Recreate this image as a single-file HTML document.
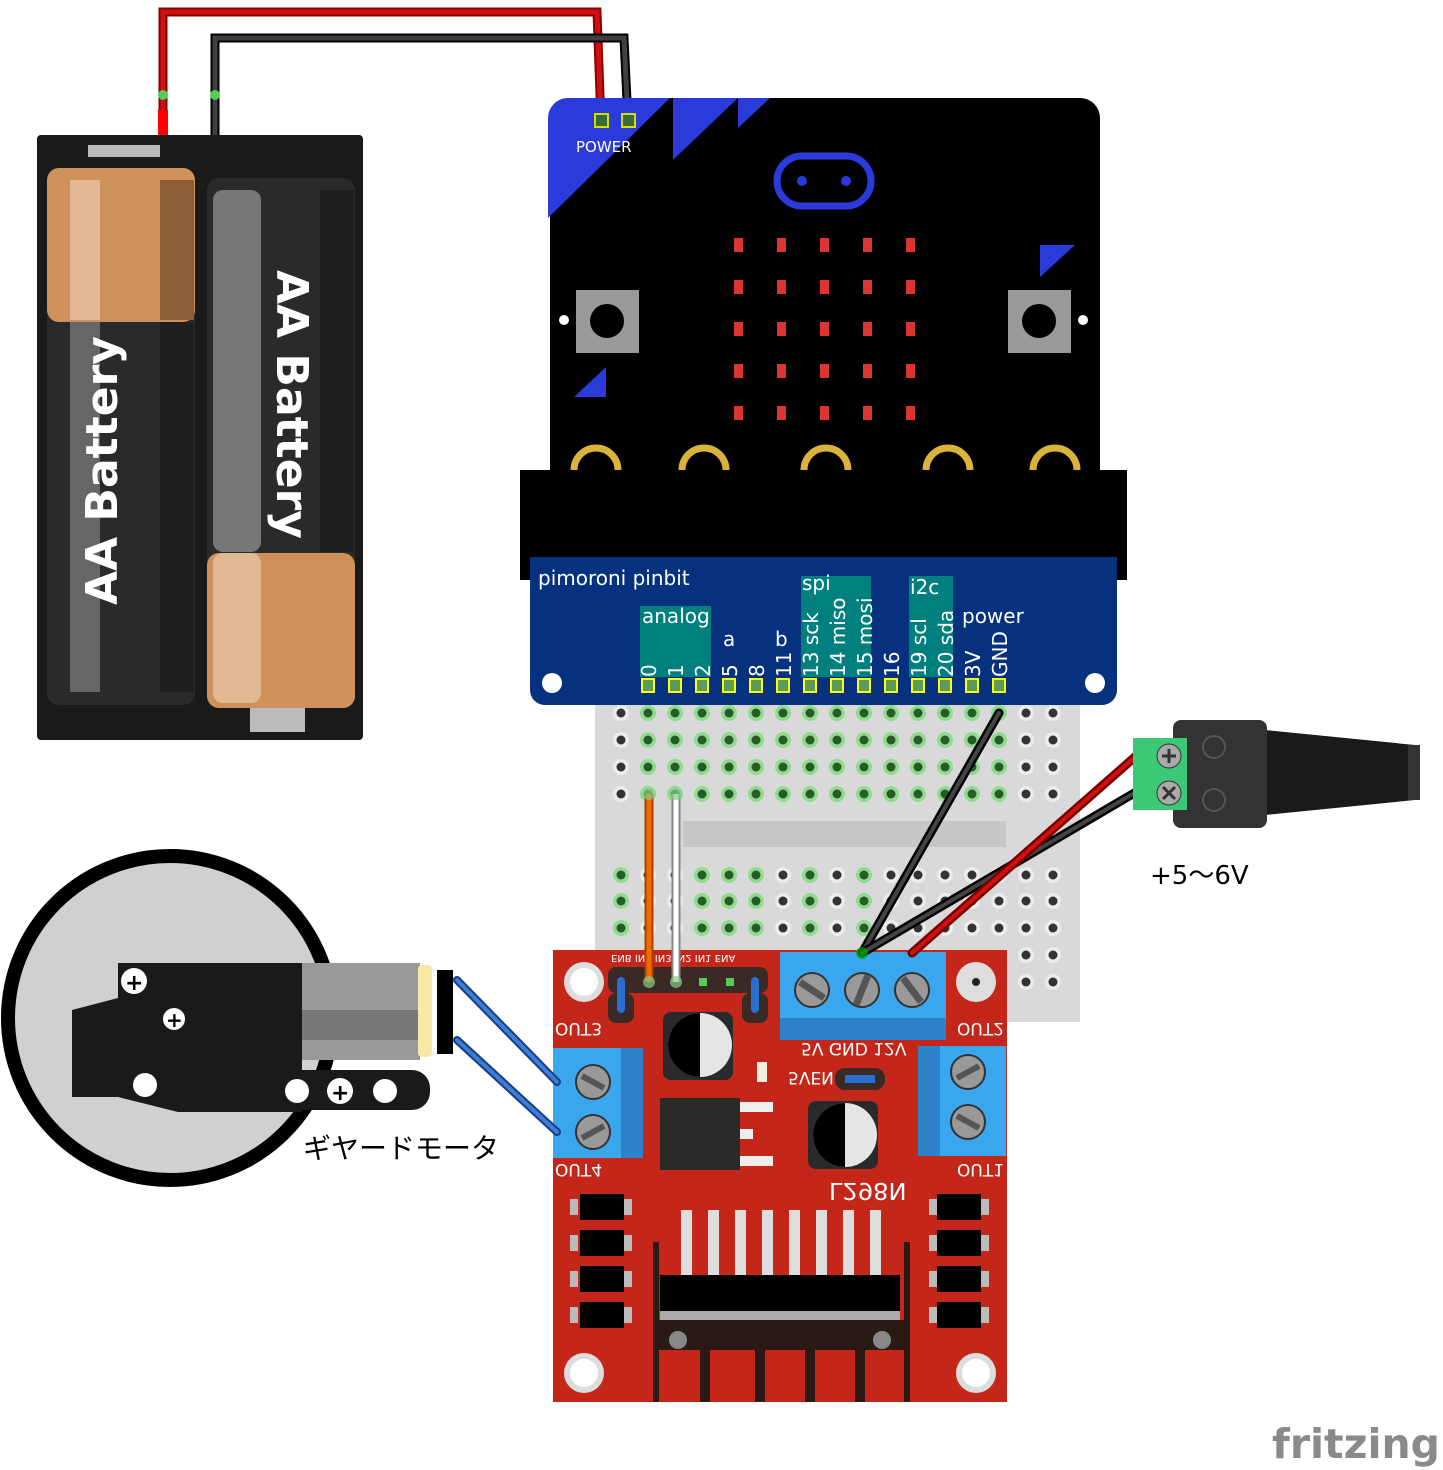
<!DOCTYPE html>
<html><head><meta charset="utf-8"><style>
html,body{margin:0;padding:0;background:#fff;}
svg{display:block;}
text{font-family:"DejaVu Sans","Liberation Sans","Noto Sans CJK JP",sans-serif;}
</style></head><body>
<svg width="1443" height="1470" viewBox="0 0 1443 1470" xmlns="http://www.w3.org/2000/svg">
<!-- battery box -->
<rect x="37" y="135" width="326" height="605" rx="4" fill="#1a1a1a"/>
<rect x="88" y="145" width="72" height="12" fill="#bbb"/>
<rect x="250" y="707" width="55" height="25" fill="#bbb"/>
<!-- left cell -->
<rect x="47" y="168" width="148" height="537" rx="12" fill="#2a2a2a"/>
<rect x="47" y="168" width="148" height="154" rx="12" fill="#cf915a"/>
<rect x="70" y="180" width="30" height="140" fill="#e2b894"/>
<rect x="160" y="180" width="34" height="140" fill="#8c5e3a"/>
<rect x="70" y="322" width="30" height="370" fill="#666"/>
<rect x="160" y="322" width="34" height="370" fill="#1f1f1f"/>
<text transform="translate(117,605) rotate(-90)" font-size="44" font-weight="bold" fill="#fff">AA Battery</text>
<!-- right cell -->
<rect x="207" y="178" width="148" height="530" rx="12" fill="#2a2a2a"/>
<rect x="207" y="553" width="148" height="155" rx="12" fill="#cf915a"/>
<rect x="213" y="190" width="48" height="362" rx="10" fill="#777"/>
<rect x="213" y="553" width="48" height="150" rx="10" fill="#e2b894"/>
<rect x="320" y="190" width="34" height="362" fill="#1f1f1f"/>
<text transform="translate(277,270) rotate(90)" font-size="44" font-weight="bold" fill="#fff">AA Battery</text>
<!-- wires to power -->
<polyline points="163,135 163,12 597,12 601,122" fill="none" stroke="#8a0000" stroke-width="9"/>
<polyline points="163,135 163,12 597,12 601,122" fill="none" stroke="#d01010" stroke-width="5"/>
<polyline points="215,135 215,38 624,38 628,122" fill="none" stroke="#000" stroke-width="9"/>
<polyline points="215,135 215,38 624,38 628,122" fill="none" stroke="#404040" stroke-width="5"/>
<circle cx="163" cy="95" r="5" fill="#5c5"/><circle cx="215" cy="95" r="5" fill="#5c5"/>
<rect x="158" y="110" width="10" height="25" fill="#f00"/>
<!-- microbit -->
<path d="M568 98H1080a20 20 0 0 1 20 20V470H550V118a20 20 0 0 1 18-20z" fill="#000"/>
<path d="M548 218V118a20 20 0 0 1 20-20h102z" fill="#2b3bdb"/>
<path d="M673 160V98h65z" fill="#2b3bdb"/>
<path d="M738 128V98h32z" fill="#2b3bdb"/>
<rect x="595" y="114" width="13" height="13" fill="#3a6a3a" stroke="#cde000" stroke-width="2"/>
<rect x="622" y="114" width="13" height="13" fill="#3a6a3a" stroke="#cde000" stroke-width="2"/>
<text x="576" y="152" font-size="15" fill="#fff" font-family="Liberation Mono,monospace">POWER</text>
<rect x="777" y="156" width="94" height="50" rx="25" fill="none" stroke="#2b3bdb" stroke-width="7"/>
<circle cx="802" cy="181" r="5" fill="#2b3bdb"/><circle cx="846" cy="181" r="5" fill="#2b3bdb"/>
<g fill="#d33">
<rect x="734" y="238" width="9" height="14"/><rect x="777" y="238" width="9" height="14"/><rect x="820" y="238" width="9" height="14"/><rect x="863" y="238" width="9" height="14"/><rect x="906" y="238" width="9" height="14"/>
<rect x="734" y="280" width="9" height="14"/><rect x="777" y="280" width="9" height="14"/><rect x="820" y="280" width="9" height="14"/><rect x="863" y="280" width="9" height="14"/><rect x="906" y="280" width="9" height="14"/>
<rect x="734" y="322" width="9" height="14"/><rect x="777" y="322" width="9" height="14"/><rect x="820" y="322" width="9" height="14"/><rect x="863" y="322" width="9" height="14"/><rect x="906" y="322" width="9" height="14"/>
<rect x="734" y="364" width="9" height="14"/><rect x="777" y="364" width="9" height="14"/><rect x="820" y="364" width="9" height="14"/><rect x="863" y="364" width="9" height="14"/><rect x="906" y="364" width="9" height="14"/>
<rect x="734" y="406" width="9" height="14"/><rect x="777" y="406" width="9" height="14"/><rect x="820" y="406" width="9" height="14"/><rect x="863" y="406" width="9" height="14"/><rect x="906" y="406" width="9" height="14"/>
</g>
<rect x="576" y="290" width="63" height="63" fill="#999"/><circle cx="607" cy="321" r="17" fill="#000"/>
<rect x="1008" y="290" width="63" height="63" fill="#999"/><circle cx="1039" cy="321" r="17" fill="#000"/>
<circle cx="564" cy="320" r="5" fill="#fff"/><circle cx="1083" cy="320" r="5" fill="#fff"/>
<path d="M574 397l32-30v30z" fill="#2b3bdb"/><path d="M1040 245h35l-35 32z" fill="#2b3bdb"/>
<g fill="none" stroke="#d9b33a" stroke-width="7">
<path d="M574 470a22 22 0 0 1 44 0"/><path d="M682 470a22 22 0 0 1 44 0"/><path d="M804 470a22 22 0 0 1 44 0"/><path d="M926 470a22 22 0 0 1 44 0"/><path d="M1033 470a22 22 0 0 1 44 0"/>
</g>
<rect x="520" y="470" width="607" height="110" fill="#000"/>
<!-- breadboard -->
<rect x="595" y="700" width="485" height="322" fill="#d9d9d9"/>
<rect x="683" y="821" width="323" height="26" fill="#c9c7c6"/>
<g id="holes"></g>
<!-- pinbit -->
<path d="M530 557H1117V690a15 15 0 0 1-15 15H545a15 15 0 0 1-15-15z" fill="#06317f"/>
<rect x="640" y="606" width="71" height="71" fill="#007f7f"/>
<rect x="801" y="576" width="70" height="101" fill="#007f7f"/>
<rect x="909" y="576" width="44" height="101" fill="#007f7f"/>
<text x="538" y="585" font-size="20" fill="#fff">pimoroni pinbit</text>
<text x="642" y="623" font-size="20" fill="#fff">analog</text>
<text x="723" y="646" font-size="20" fill="#fff">a</text>
<text x="775" y="646" font-size="20" fill="#fff">b</text>
<text x="802" y="590" font-size="20" fill="#fff">spi</text>
<text x="910" y="594" font-size="20" fill="#fff">i2c</text>
<text x="962" y="623" font-size="20" fill="#fff">power</text>
<g font-size="20" fill="#fff">
<text transform="translate(656,677) rotate(-90)">0</text>
<text transform="translate(683,677) rotate(-90)">1</text>
<text transform="translate(710,677) rotate(-90)">2</text>
<text transform="translate(737,677) rotate(-90)">5</text>
<text transform="translate(764,677) rotate(-90)">8</text>
<text transform="translate(791,677) rotate(-90)">11</text>
<text transform="translate(818,677) rotate(-90)">13 sck</text>
<text transform="translate(845,677) rotate(-90)">14 miso</text>
<text transform="translate(872,677) rotate(-90)">15 mosi</text>
<text transform="translate(899,677) rotate(-90)">16</text>
<text transform="translate(926,677) rotate(-90)">19 scl</text>
<text transform="translate(953,677) rotate(-90)">20 sda</text>
<text transform="translate(980,677) rotate(-90)">3V</text>
<text transform="translate(1007,677) rotate(-90)">GND</text>
</g>
<g fill="#5a9a5a" stroke="#ffff00" stroke-width="2">
<rect x="642" y="679" width="12" height="13"/><rect x="669" y="679" width="12" height="13"/><rect x="696" y="679" width="12" height="13"/><rect x="723" y="679" width="12" height="13"/><rect x="750" y="679" width="12" height="13"/><rect x="777" y="679" width="12" height="13"/><rect x="804" y="679" width="12" height="13"/><rect x="831" y="679" width="12" height="13"/><rect x="858" y="679" width="12" height="13"/><rect x="885" y="679" width="12" height="13"/><rect x="912" y="679" width="12" height="13"/><rect x="939" y="679" width="12" height="13"/><rect x="966" y="679" width="12" height="13"/><rect x="993" y="679" width="12" height="13"/>
</g>
<circle cx="552" cy="683" r="10" fill="#fff"/><circle cx="1095" cy="683" r="10" fill="#fff"/>
<!-- motor driver -->
<rect x="553" y="950" width="454" height="452" fill="#c4261a"/>
<circle cx="584" cy="982" r="20" fill="#ddd"/><circle cx="584" cy="982" r="14" fill="#fff"/>
<circle cx="976" cy="982" r="20" fill="#ddd"/><circle cx="976" cy="982" r="4" fill="#222"/>
<circle cx="584" cy="1373" r="20" fill="#ddd"/><circle cx="584" cy="1373" r="14" fill="#fff"/>
<circle cx="976" cy="1373" r="20" fill="#ddd"/><circle cx="976" cy="1373" r="14" fill="#fff"/>
<rect x="608" y="967" width="160" height="26" rx="8" fill="#3a2a26"/>
<rect x="608" y="993" width="26" height="30" rx="8" fill="#3a2a26"/><rect x="742" y="993" width="26" height="30" rx="8" fill="#3a2a26"/>
<rect x="617" y="977" width="8" height="36" rx="4" fill="#2a6ed0"/><rect x="751" y="977" width="8" height="36" rx="4" fill="#2a6ed0"/>
<rect x="699" y="978" width="8" height="8" fill="#5c5"/><rect x="726" y="978" width="8" height="8" fill="#5c5"/>
<g font-size="10" fill="#fff" font-family="Liberation Mono,monospace"><text transform="translate(611,955) scale(1,-1)">ENB IN4 IN3 IN2 IN1 ENA</text></g>
<rect x="780" y="952" width="166" height="88" fill="#3aa6ee"/>
<rect x="780" y="1018" width="166" height="22" fill="#2d82c9"/>
<g fill="#999" stroke="#333" stroke-width="2"><circle cx="812" cy="990" r="17"/><circle cx="862" cy="990" r="17"/><circle cx="912" cy="990" r="17"/></g>
<g stroke="#555" stroke-width="7"><line x1="800" y1="982" x2="824" y2="998"/><line x1="856" y1="1005" x2="868" y2="975"/><line x1="903" y1="978" x2="921" y2="1002"/></g>
<rect x="918" y="1046" width="88" height="110" fill="#3aa6ee"/><rect x="918" y="1046" width="22" height="110" fill="#2d82c9"/>
<g fill="#999" stroke="#333" stroke-width="2"><circle cx="968" cy="1072" r="17"/><circle cx="968" cy="1122" r="17"/></g>
<rect x="553" y="1048" width="90" height="110" fill="#3aa6ee"/><rect x="621" y="1048" width="22" height="110" fill="#2d82c9"/>
<g fill="#999" stroke="#333" stroke-width="2"><circle cx="593" cy="1082" r="17"/><circle cx="593" cy="1132" r="17"/></g>
<g stroke="#555" stroke-width="6"><line x1="582" y1="1076" x2="604" y2="1088"/><line x1="582" y1="1138" x2="604" y2="1126"/><line x1="957" y1="1078" x2="979" y2="1066"/><line x1="957" y1="1116" x2="979" y2="1128"/></g>
<g font-size="17" fill="#fff" font-family="Liberation Mono,monospace">
<text transform="translate(555,1023) scale(1,-1)">OUT3</text>
<text transform="translate(957,1023) scale(1,-1)">OUT2</text>
<text transform="translate(555,1164) scale(1,-1)">OUT4</text>
<text transform="translate(957,1164) scale(1,-1)">OUT1</text>
<text transform="translate(801,1043) scale(1,-1)">5V  GND 12V</text>
<text transform="translate(788,1072) scale(1,-1)">5VEN</text>
<text transform="translate(829,1183) scale(1.05,-1)" font-size="23">L298N</text>
</g>
<rect x="835" y="1068" width="50" height="22" rx="10" fill="#3a2a26"/><rect x="845" y="1075" width="30" height="8" fill="#2a6ed0"/>
<rect x="663" y="1012" width="70" height="68" rx="8" fill="#2a2a2a"/><circle cx="700" cy="1045" r="32" fill="#e5e5e5"/><path d="M700 1013a32 32 0 0 0 0 64z" fill="#000"/>
<rect x="808" y="1101" width="70" height="68" rx="8" fill="#2a2a2a"/><circle cx="845" cy="1135" r="32" fill="#e5e5e5"/><path d="M845 1103a32 32 0 0 0 0 64z" fill="#000"/>
<rect x="757" y="1062" width="10" height="20" fill="#f3eedd"/>
<rect x="660" y="1098" width="80" height="72" fill="#2a2a2a"/><rect x="740" y="1102" width="33" height="10" fill="#eee"/><rect x="740" y="1129" width="13" height="10" fill="#eee"/><rect x="740" y="1156" width="33" height="10" fill="#eee"/>
<g fill="#000"><rect x="580" y="1194" width="44" height="26"/><rect x="580" y="1230" width="44" height="26"/><rect x="580" y="1266" width="44" height="26"/><rect x="580" y="1302" width="44" height="26"/>
<rect x="937" y="1194" width="44" height="26"/><rect x="937" y="1230" width="44" height="26"/><rect x="937" y="1266" width="44" height="26"/><rect x="937" y="1302" width="44" height="26"/></g>
<g fill="#bbb"><rect x="570" y="1199" width="8" height="16"/><rect x="570" y="1235" width="8" height="16"/><rect x="570" y="1271" width="8" height="16"/><rect x="570" y="1307" width="8" height="16"/><rect x="624" y="1199" width="8" height="16"/><rect x="624" y="1235" width="8" height="16"/><rect x="624" y="1271" width="8" height="16"/><rect x="624" y="1307" width="8" height="16"/>
<rect x="929" y="1199" width="8" height="16"/><rect x="929" y="1235" width="8" height="16"/><rect x="929" y="1271" width="8" height="16"/><rect x="929" y="1307" width="8" height="16"/><rect x="981" y="1199" width="8" height="16"/><rect x="981" y="1235" width="8" height="16"/><rect x="981" y="1271" width="8" height="16"/><rect x="981" y="1307" width="8" height="16"/></g>
<g fill="#ddd"><rect x="681" y="1210" width="11" height="68"/><rect x="708" y="1210" width="11" height="68"/><rect x="735" y="1210" width="11" height="68"/><rect x="762" y="1210" width="11" height="68"/><rect x="789" y="1210" width="11" height="68"/><rect x="816" y="1210" width="11" height="68"/><rect x="843" y="1210" width="11" height="68"/><rect x="870" y="1210" width="11" height="68"/></g>
<rect x="660" y="1275" width="240" height="36" fill="#000"/><rect x="660" y="1311" width="240" height="10" fill="#aaa"/>
<path d="M653 1242h6v80h245v-80h6v160h-6v-80h-245v80h-6z" fill="#2a1a16"/>
<rect x="653" y="1320" width="257" height="30" fill="#2a1a16"/>
<rect x="700" y="1350" width="10" height="52" fill="#2a1a16"/><rect x="755" y="1350" width="10" height="52" fill="#2a1a16"/><rect x="805" y="1350" width="10" height="52" fill="#2a1a16"/><rect x="855" y="1350" width="10" height="52" fill="#2a1a16"/>
<circle cx="678" cy="1340" r="9" fill="#888"/><circle cx="882" cy="1340" r="9" fill="#888"/>
<!-- breadboard wires -->
<line x1="649" y1="794" x2="649" y2="982" stroke="#a84300" stroke-width="9"/><line x1="649" y1="794" x2="649" y2="982" stroke="#ef6a00" stroke-width="5"/>
<line x1="676" y1="794" x2="676" y2="982" stroke="#888" stroke-width="9"/><line x1="676" y1="794" x2="676" y2="982" stroke="#fff" stroke-width="5"/>
<g stroke-linecap="round">
<line x1="999" y1="713" x2="862" y2="953" stroke="#000" stroke-width="9"/><line x1="999" y1="713" x2="862" y2="953" stroke="#444" stroke-width="4"/>
<line x1="1136" y1="792" x2="862" y2="953" stroke="#000" stroke-width="9"/><line x1="1136" y1="792" x2="862" y2="953" stroke="#444" stroke-width="4"/>
<line x1="1136" y1="756" x2="912" y2="953" stroke="#700" stroke-width="9"/><line x1="1136" y1="756" x2="912" y2="953" stroke="#d01010" stroke-width="4"/>
<line x1="457" y1="980" x2="557" y2="1082" stroke="#1a3c80" stroke-width="8"/><line x1="457" y1="980" x2="557" y2="1082" stroke="#3b7ed8" stroke-width="4"/>
<line x1="457" y1="1040" x2="557" y2="1132" stroke="#1a3c80" stroke-width="8"/><line x1="457" y1="1040" x2="557" y2="1132" stroke="#3b7ed8" stroke-width="4"/>
</g>
<circle cx="862" cy="953" r="6" fill="#0a0" opacity=".7"/>
<circle cx="649" cy="794" r="6" fill="#8c8" opacity=".7"/><circle cx="676" cy="794" r="6" fill="#8c8" opacity=".7"/>
<circle cx="649" cy="982" r="6" fill="#8c8" opacity=".7"/><circle cx="676" cy="982" r="6" fill="#8c8" opacity=".7"/>
<!-- motor -->
<circle cx="170" cy="1018" r="162" fill="#d0d0d0" stroke="#000" stroke-width="14"/>
<rect x="300" y="963" width="120" height="97" fill="#999"/><rect x="300" y="1010" width="120" height="30" fill="#777"/>
<rect x="418" y="965" width="14" height="92" rx="4" fill="#f7e8a8"/>
<rect x="437" y="970" width="16" height="84" fill="#000"/>
<path d="M118 963H302V1112H178l-60-15H72V1010l46-12z" fill="#1a1a1a"/>
<rect x="280" y="1070" width="150" height="40" rx="18" fill="#1a1a1a"/>
<circle cx="134" cy="981" r="13" fill="#fff"/><text x="125" y="990" font-size="22" font-weight="bold" fill="#000">+</text>
<circle cx="174" cy="1019" r="11" fill="#fff"/><text x="166" y="1027" font-size="20" font-weight="bold" fill="#000">+</text>
<circle cx="145" cy="1085" r="12" fill="#fff"/><circle cx="297" cy="1091" r="12" fill="#fff"/><circle cx="340" cy="1091" r="13" fill="#fff"/><circle cx="385" cy="1091" r="12" fill="#fff"/>
<text x="331" y="1100" font-size="22" font-weight="bold" fill="#000">+</text>
<text x="303" y="1158" font-size="28" fill="#000" font-family="Liberation Sans,Noto Sans CJK JP,sans-serif">ギヤードモータ</text>
<!-- DC jack -->
<path d="M1265 730l150 15v55l-150 15z" fill="#1a1a1a"/>
<rect x="1408" y="745" width="12" height="55" fill="#333"/>
<rect x="1173" y="720" width="94" height="108" rx="8" fill="#333"/>
<rect x="1133" y="738" width="54" height="72" fill="#3dc877"/>
<circle cx="1169" cy="756" r="12" fill="#aaa" stroke="#333"/><circle cx="1169" cy="793" r="12" fill="#aaa" stroke="#333"/>
<g stroke="#333" stroke-width="3"><line x1="1162" y1="756" x2="1176" y2="756"/><line x1="1169" y1="749" x2="1169" y2="763"/><line x1="1163" y1="787" x2="1175" y2="799"/><line x1="1175" y1="787" x2="1163" y2="799"/></g>
<circle cx="1214" cy="747" r="11" fill="none" stroke="#555" stroke-width="2"/><circle cx="1214" cy="800" r="11" fill="none" stroke="#555" stroke-width="2"/>
<text x="1150" y="884" font-size="26" fill="#000" font-family="Liberation Sans,Noto Sans CJK JP,sans-serif">+5～6V</text>
<text x="1272" y="1458" font-size="41" font-weight="bold" fill="#8a8a8a" font-family="Liberation Sans,sans-serif" textLength="168" lengthAdjust="spacingAndGlyphs">fritzing</text>
</svg>
<script>
var g=document.getElementById('holes'),ns='http://www.w3.org/2000/svg',ys=[713,740,767,794,875,901,928,955,982];
for(var r=0;r<ys.length;r++)for(var i=0;i<17;i++){var x=621+27*i,y=ys[r];if(y>=950&&x<1007)continue;var green=(r<4&&i>=1&&i<=14)||(r>=4&&r<=6&&(i==0||i==3||i==4||i==5||i==7||i==9));
var c=document.createElementNS(ns,'circle');c.setAttribute('cx',x);c.setAttribute('cy',y);c.setAttribute('r',8);c.setAttribute('fill',green?'#8fdc8f':'#ececec');g.appendChild(c);
var d=document.createElementNS(ns,'circle');d.setAttribute('cx',x);d.setAttribute('cy',y);d.setAttribute('r',4.5);d.setAttribute('fill',green?'#2a5a2a':'#333');g.appendChild(d);}
</script>
</body></html>
